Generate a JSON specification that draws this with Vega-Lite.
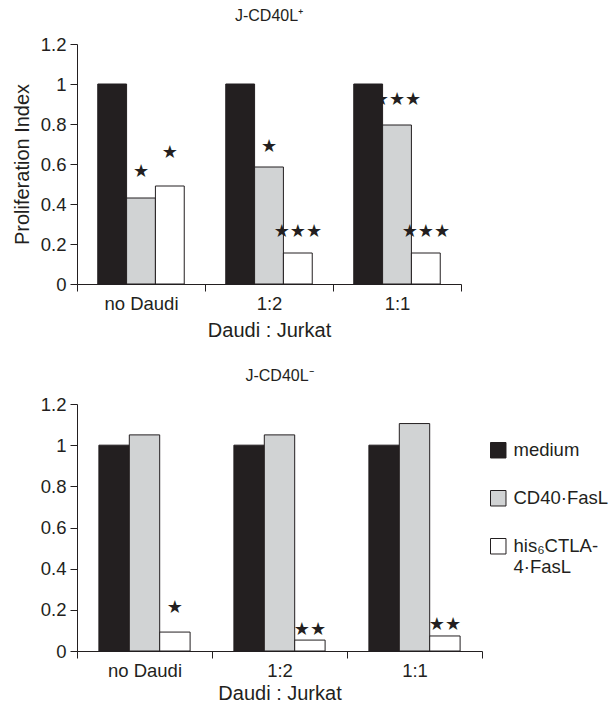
{
  "$schema": "https://vega.github.io/schema/vega-lite/v6.json",
  "background": "white",
  "padding": {"left": 12, "top": 8, "right": 2, "bottom": 2},
  "config": {
    "font": "Liberation Sans",
    "view": {"stroke": null},
    "axis": {
      "domainColor": "#231f20", "tickColor": "#231f20", "labelColor": "#231f20", "titleColor": "#231f20",
      "grid": false, "labelFont": "Liberation Sans", "titleFont": "Liberation Sans",
      "titleFontWeight": "normal", "labelFontSize": 18.5, "titleFontSize": 20, "tickSize": 7, "labelOverlap": false
    },
    "title": {"font": "Liberation Sans", "fontSize": 16, "fontWeight": "normal", "color": "#231f20", "offset": 11}
  },
  "datasets": {
    "bars": [
      {"panel": "plus", "group": "no Daudi", "series": "medium", "value": 1, "stars": "", "starY": 0},
      {"panel": "plus", "group": "no Daudi", "series": "CD40·FasL", "value": 0.43, "stars": "★", "starY": 0.56},
      {"panel": "plus", "group": "no Daudi", "series": "his₆CTLA-4·FasL", "value": 0.49, "stars": "★", "starY": 0.655},
      {"panel": "plus", "group": "1:2", "series": "medium", "value": 1, "stars": "", "starY": 0},
      {"panel": "plus", "group": "1:2", "series": "CD40·FasL", "value": 0.585, "stars": "★", "starY": 0.685},
      {"panel": "plus", "group": "1:2", "series": "his₆CTLA-4·FasL", "value": 0.155, "stars": "★★★", "starY": 0.26},
      {"panel": "plus", "group": "1:1", "series": "medium", "value": 1, "stars": "", "starY": 0},
      {"panel": "plus", "group": "1:1", "series": "CD40·FasL", "value": 0.795, "stars": "★★★", "starY": 0.92},
      {"panel": "plus", "group": "1:1", "series": "his₆CTLA-4·FasL", "value": 0.155, "stars": "★★★", "starY": 0.26},
      {"panel": "minus", "group": "no Daudi", "series": "medium", "value": 1, "stars": "", "starY": 0},
      {"panel": "minus", "group": "no Daudi", "series": "CD40·FasL", "value": 1.05, "stars": "", "starY": 0},
      {"panel": "minus", "group": "no Daudi", "series": "his₆CTLA-4·FasL", "value": 0.092, "stars": "★", "starY": 0.21},
      {"panel": "minus", "group": "1:2", "series": "medium", "value": 1, "stars": "", "starY": 0},
      {"panel": "minus", "group": "1:2", "series": "CD40·FasL", "value": 1.05, "stars": "", "starY": 0},
      {"panel": "minus", "group": "1:2", "series": "his₆CTLA-4·FasL", "value": 0.053, "stars": "★★", "starY": 0.1},
      {"panel": "minus", "group": "1:1", "series": "medium", "value": 1, "stars": "", "starY": 0},
      {"panel": "minus", "group": "1:1", "series": "CD40·FasL", "value": 1.105, "stars": "", "starY": 0},
      {"panel": "minus", "group": "1:1", "series": "his₆CTLA-4·FasL", "value": 0.073, "stars": "★★", "starY": 0.125}
    ]
  },
  "spacing": 27,
  "resolve": {
    "scale": {"color": "independent", "x": "independent", "y": "independent", "xOffset": "independent"},
    "legend": {"color": "independent"}
  },
  "vconcat": [
    {
      "title": "J-CD40L⁺",
      "width": 384,
      "height": 240,
      "data": {"name": "bars"},
      "transform": [{"filter": "datum.panel == 'plus'"}],
      "encoding": {
        "x": {"field": "group", "type": "nominal", "sort": ["no Daudi", "1:2", "1:1"],
          "scale": {"paddingInner": 0, "paddingOuter": 0},
          "axis": {"title": "Daudi : Jurkat", "labelAngle": 0, "tickBand": "extent", "labelPadding": 3, "titlePadding": 8}},
        "xOffset": {"field": "series", "type": "nominal", "sort": ["medium", "CD40·FasL", "his₆CTLA-4·FasL"],
          "scale": {"paddingInner": 0, "paddingOuter": 0.72}}
      },
      "layer": [
        {
          "mark": {"type": "bar", "stroke": "#231f20", "strokeWidth": 1},
          "encoding": {
            "y": {"field": "value", "type": "quantitative", "scale": {"domain": [0, 1.2]},
              "axis": {"values": [0, 0.2, 0.4, 0.6, 0.8, 1, 1.2], "format": ".1~f", "title": "Proliferation Index", "titlePadding": 8, "labelPadding": 4, "labelOverlap": false}},
            "color": {"field": "series", "type": "nominal",
              "scale": {"domain": ["medium", "CD40·FasL", "his₆CTLA-4·FasL"], "range": ["#231f20", "#d1d3d4", "#ffffff"]},
              "legend": null}
          }
        },
        {
          "transform": [{"filter": "datum.stars != ''"}],
          "mark": {"type": "text", "font": "DejaVu Sans", "fontSize": 18, "baseline": "middle", "align": "center", "color": "#231f20"},
          "encoding": {
            "y": {"field": "starY", "type": "quantitative",
              "axis": {"values": [0, 0.2, 0.4, 0.6, 0.8, 1, 1.2], "format": ".1~f", "title": "Proliferation Index", "titlePadding": 8, "labelPadding": 4, "labelOverlap": false}},
            "text": {"field": "stars"}
          }
        }
      ]
    },
    {
      "title": "J-CD40L⁻",
      "width": 405,
      "height": 247,
      "data": {"name": "bars"},
      "transform": [{"filter": "datum.panel == 'minus'"}],
      "encoding": {
        "x": {"field": "group", "type": "nominal", "sort": ["no Daudi", "1:2", "1:1"],
          "scale": {"paddingInner": 0, "paddingOuter": 0},
          "axis": {"title": "Daudi : Jurkat", "labelAngle": 0, "tickBand": "extent", "labelPadding": 3, "titlePadding": 4}},
        "xOffset": {"field": "series", "type": "nominal", "sort": ["medium", "CD40·FasL", "his₆CTLA-4·FasL"],
          "scale": {"paddingInner": 0, "paddingOuter": 0.72}}
      },
      "layer": [
        {
          "mark": {"type": "bar", "stroke": "#231f20", "strokeWidth": 1},
          "encoding": {
            "y": {"field": "value", "type": "quantitative", "scale": {"domain": [0, 1.2]},
              "axis": {"values": [0, 0.2, 0.4, 0.6, 0.8, 1, 1.2], "format": ".1~f", "title": null, "labelPadding": 4, "labelOverlap": false}},
            "color": {"field": "series", "type": "nominal",
              "scale": {"domain": ["medium", "CD40·FasL", "his₆CTLA-4·FasL"], "range": ["#231f20", "#d1d3d4", "#ffffff"]},
              "legend": {
                "orient": "none", "legendX": 412, "legendY": 37, "title": null, "padding": 0,
                "symbolType": "square", "symbolSize": 240, "symbolStrokeColor": "#231f20", "symbolStrokeWidth": 1,
                "labelFont": "Liberation Sans", "labelFontSize": 18.5, "labelColor": "#231f20", "labelLimit": 200,
                "labelOffset": 6, "rowPadding": 28,
                "labelExpr": "datum.label == 'his₆CTLA-4·FasL' ? ['his₆CTLA-', '4·FasL'] : datum.label"
              }}
          }
        },
        {
          "transform": [{"filter": "datum.stars != ''"}],
          "mark": {"type": "text", "font": "DejaVu Sans", "fontSize": 18, "baseline": "middle", "align": "center", "color": "#231f20"},
          "encoding": {
            "y": {"field": "starY", "type": "quantitative",
              "axis": {"values": [0, 0.2, 0.4, 0.6, 0.8, 1, 1.2], "format": ".1~f", "title": null, "labelPadding": 4, "labelOverlap": false}},
            "text": {"field": "stars"}
          }
        }
      ]
    }
  ]
}
